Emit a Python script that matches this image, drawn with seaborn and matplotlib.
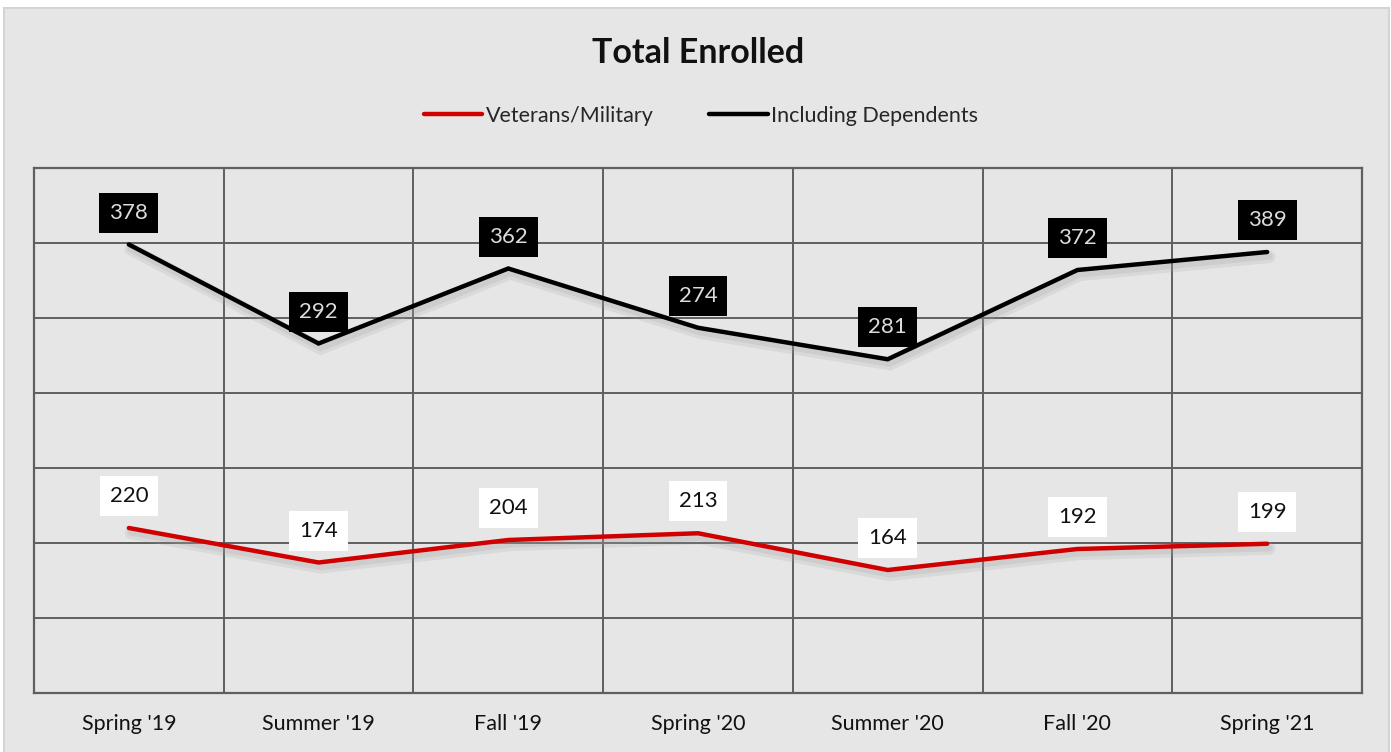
import matplotlib
matplotlib.use("Agg")
import matplotlib.pyplot as plt
import matplotlib.patheffects as pe
from matplotlib.patches import Rectangle
import seaborn as sns
import pandas as pd

terms = ["Spring '19", "Summer '19", "Fall '19", "Spring '20", "Summer '20", "Fall '20", "Spring '21"]
veterans = [220, 174, 204, 213, 164, 192, 199]
dependents = [378, 292, 362, 274, 281, 372, 389]

# the chart is a stacked line: dependents line sits on top of veterans
stacked = [v + d for v, d in zip(veterans, dependents)]

df = pd.DataFrame({
    "term": terms * 2,
    "value": veterans + stacked,
    "label": veterans + dependents,
    "series": ["Veterans/Military"] * len(terms) + ["Including Dependents"] * len(terms),
})

sns.set_style("white")
plt.rcParams["font.family"] = ["Lato", "DejaVu Sans"]

bg = "#e6e6e6"
grid = "#5f5f5f"
fig = plt.figure(figsize=(13.91, 7.52), dpi=100)
fig.patch.set_facecolor("white")
fig.patches.append(Rectangle((4 / 1391, -0.01), 1385 / 1391, 1 - 8 / 752 + 0.01,
                             transform=fig.transFigure, facecolor=bg,
                             edgecolor="#d4d4d4", linewidth=1.5, zorder=-10))

ax = fig.add_axes([34 / 1391, 1 - 693 / 752, 1328 / 1391, 525 / 752])
ax.set_facecolor(bg)

shadow = [pe.SimpleLineShadow(offset=(1.5, -3.5), shadow_color="#a0a0a0", alpha=0.18, linewidth=9),
          pe.SimpleLineShadow(offset=(1.5, -3), shadow_color="#a0a0a0", alpha=0.2, linewidth=5),
          pe.Normal()]
palette = {"Veterans/Military": "#d00000", "Including Dependents": "#000000"}
sns.lineplot(data=df, x="term", y="value", hue="series", palette=palette,
             linewidth=3.2, ax=ax, legend=False, sort=False)
for line in ax.lines:
    line.set_path_effects(shadow)
    line.set_solid_capstyle("round")
    line.set_solid_joinstyle("miter")

n = len(terms)
ax.set_xlim(-0.5, n - 0.5)
ax.set_ylim(0, 700)
ax.set_yticks(range(0, 701, 100))
ax.set_yticklabels([])
ax.set_xticks(range(n))
ax.set_xticklabels(terms, fontsize=15.5, color="#111111")
ax.tick_params(axis="both", length=0, pad=15)
ax.set_xlabel("")
ax.set_ylabel("")
for y in range(100, 700, 100):
    ax.axhline(y, color=grid, linewidth=1.4, zorder=0.5)
for i in range(1, n):
    ax.axvline(i - 0.5, color=grid, linewidth=1.4, zorder=0.5)
for s in ax.spines.values():
    s.set_color(grid)
    s.set_linewidth(1.6)

# data labels
for _, r in df.iterrows():
    if r["series"] == "Veterans/Military":
        fc, tc = "white", "#111111"
    else:
        fc, tc = "black", "#dcdcdc"
    ax.annotate(str(r["label"]), (r["term"], r["value"]), xytext=(0, 23),
                textcoords="offset points", ha="center", va="center",
                fontsize=16, color=tc, zorder=5,
                bbox=dict(boxstyle="square,pad=0.45", fc=fc, ec="none"))

fig.text(0.502, 1 - 53 / 752, "Total Enrolled", ha="center", va="center",
         fontsize=24.5, fontweight="bold", color="#111111")

handles = [plt.Line2D([0], [0], color=palette[k], linewidth=3.2, solid_capstyle="round")
           for k in ["Veterans/Military", "Including Dependents"]]
fig.legend(handles, ["Veterans/Military", "Including Dependents"], loc="center",
           bbox_to_anchor=(0.504, 1 - 116 / 752), ncol=2, frameon=False,
           fontsize=15.5, handlelength=2.7, handletextpad=0.15, columnspacing=2.6)

fig.savefig("out.png", dpi=100, facecolor=fig.get_facecolor())
